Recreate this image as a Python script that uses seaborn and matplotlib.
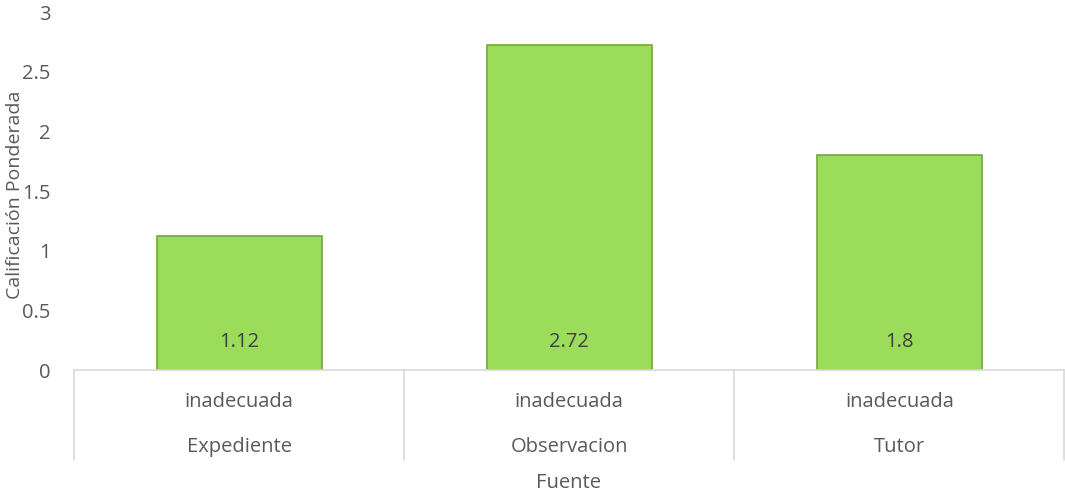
import pandas as pd
import matplotlib
matplotlib.use("Agg")
import matplotlib.pyplot as plt
import matplotlib.transforms as mtransforms
import seaborn as sns

# chart data
fuentes = ["Expediente", "Observacion", "Tutor"]
niveles = ["inadecuada", "inadecuada", "inadecuada"]
calificacion = [1.12, 2.72, 1.8]
etiquetas = ["1.12", "2.72", "1.8"]

df = pd.DataFrame({"Fuente": fuentes, "Calificacion": calificacion})

sns.set_style("white")
plt.rcParams["font.family"] = ["Open Sans", "DejaVu Sans"]
gris = "#595959"
fs = 14.5

fig = plt.figure(figsize=(10.65, 4.98), dpi=100)
ax = fig.add_axes([74 / 1065, 128 / 498, 0.9995 - 74 / 1065, 358 / 498])

sns.barplot(data=df, x="Fuente", y="Calificacion", color="#9BDC5A",
            saturation=1, width=0.5, edgecolor="#74A83F", linewidth=1.2, ax=ax)

ax.set_ylim(0, 3)
ax.set_xlim(-0.5, 2.5)
ax.set_yticks([0, 0.5, 1, 1.5, 2, 2.5, 3])
ax.set_yticklabels(["0", "0.5", "1", "1.5", "2", "2.5", "3"])
ax.tick_params(axis="y", length=0, pad=17, labelsize=fs, labelcolor=gris)
ax.set_xticks([])
ax.set_xlabel("")
ax.set_ylabel("")

for s in ["top", "right", "left"]:
    ax.spines[s].set_visible(False)
ax.spines["bottom"].set_color("#D9D9D9")
ax.spines["bottom"].set_linewidth(1.2)

# value labels inside bars
for i, t in enumerate(etiquetas):
    ax.text(i, 0.235, t, ha="center", va="center", fontsize=fs, color="#404040")

# two-level category axis
trans = mtransforms.blended_transform_factory(ax.transData, ax.transAxes)
for xv in [-0.5, 0.5, 1.5, 2.5]:
    ax.plot([xv, xv], [0, -0.251], transform=trans, color="#D9D9D9",
            lw=1.2, clip_on=False)
for i in range(len(fuentes)):
    ax.text(i, -0.089, niveles[i], transform=trans, ha="center", va="center",
            fontsize=fs, color=gris)
    ax.text(i, -0.215, fuentes[i], transform=trans, ha="center", va="center",
            fontsize=fs, color=gris)

fig.text(569 / 1065, 1 - 483 / 498, "Fuente", ha="center", va="center",
         fontsize=fs, color=gris)
fig.text(15 / 1065, 1 - 195 / 498, "Calificación Ponderada", rotation=90,
         ha="center", va="center", fontsize=14, color=gris)

fig.savefig("out.png", dpi=100, facecolor="white")
